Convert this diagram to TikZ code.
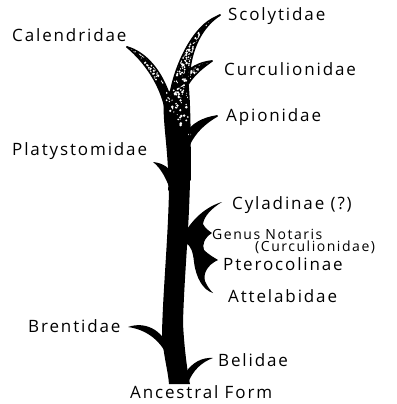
\documentclass[tikz,border=0pt]{standalone}
\usepackage{fontspec}
\newfontfamily\labfont[LetterSpace=11]{Open Sans}
\begin{document}
\begin{tikzpicture}[x=1pt,y=-1pt,
  branch/.style={fill=black,draw=none},
  rim/.style={draw=black,line width=1.6pt,line cap=round},
  lab/.style={anchor=base west,inner sep=0pt,font=\labfont\fontsize{17}{17}\selectfont},
  smalllab/.style={anchor=base west,inner sep=0pt,font=\labfont\fontsize{14}{14}\selectfont}]
\useasboundingbox (0,0) rectangle (396,404);
% trunk
\fill[branch] (165,92) .. controls (162,120) and (170,150) .. (169,190)
  .. controls (168,240) and (163,290) .. (162,333)
  .. controls (163,355) and (168,370) .. (169,384)
  -- (190,384)
  .. controls (187,370) and (184,345) .. (183,323)
  .. controls (184,280) and (189,230) .. (190,180)
  .. controls (190,140) and (190,110) .. (188,85) -- cycle;
% Calendridae leaf
\fill[branch] (127,47) .. controls (145,52) and (162,70) .. (171,100)
  -- (166,112) .. controls (161,85) and (145,62) .. (127,47) -- cycle;
% Scolytidae
\fill[branch] (220,15) .. controls (203,26) and (190,48) .. (189,80)
  -- (170,95) .. controls (175,65) and (192,30) .. (212,19) -- cycle;
% Curculionidae leaf
\fill[branch] (212,61) .. controls (200,62) and (188,68) .. (182,78)
  -- (186,88) .. controls (192,76) and (202,68) .. (212,61) -- cycle;
% Apionidae leaf
\fill[branch] (217,116) .. controls (203,118) and (192,124) .. (186,134)
  -- (189,145) .. controls (195,132) and (205,123) .. (217,116) -- cycle;
% Platystomidae leaf
\fill[branch] (153,162) .. controls (163,163) and (171,168) .. (174,178)
  -- (171,192) .. controls (167,180) and (161,168) .. (153,162) -- cycle;
% side crescent
\fill[branch] (184,234) .. controls (192,220) and (205,207) .. (222,202)
  .. controls (212,208) and (204,216) .. (203,224)
  .. controls (205,228) and (209,231) .. (212,233)
  .. controls (204,238) and (202,245) .. (204,250)
  .. controls (208,254) and (213,257) .. (218,260)
  .. controls (207,265) and (203,274) .. (205,281)
  .. controls (207,286) and (210,290) .. (213,293)
  .. controls (203,290) and (196,278) .. (194,262)
  .. controls (193,252) and (191,246) .. (186,243) -- cycle;
% Brentidae
\fill[branch] (128,327) .. controls (145,321) and (162,330) .. (168,347)
  -- (170,364) .. controls (165,345) and (150,330) .. (128,327) -- cycle;
% Belidae
\fill[branch] (213,358) .. controls (202,357) and (192,363) .. (186,372)
  -- (188,383) .. controls (193,370) and (202,362) .. (213,358) -- cycle;
% speckles
\pgfmathsetseed{11}
\foreach \i in {1,...,650}{
  \pgfmathsetmacro\xx{130+70*rnd}
  \pgfmathsetmacro\yy{25+120*rnd*(0.4+0.6*rnd)}
  \pgfmathsetmacro\rr{0.5+1.0*rnd}
  \fill[white] (\xx,\yy) circle[radius=\rr];
}
\foreach \i in {1,...,120}{
  \pgfmathsetmacro\xx{185+30*rnd}
  \pgfmathsetmacro\yy{15+50*rnd}
  \pgfmathsetmacro\rr{0.4+0.8*rnd}
  \fill[white] (\xx,\yy) circle[radius=\rr];
}
% restore outer edges of the speckled part
\draw[rim] (127,47) .. controls (145,52) and (162,70) .. (171,100);
\draw[rim] (127,47) .. controls (145,62) and (161,85) .. (166,112);
\draw[rim] (220,15) .. controls (203,26) and (190,48) .. (189,80);
\draw[rim] (212,19) .. controls (192,30) and (175,65) .. (170,95);
\draw[rim] (220,15) -- (212,19);
\draw[rim] (212,61) .. controls (200,62) and (188,68) .. (182,78);
\draw[rim] (212,61) .. controls (202,68) and (192,76) .. (186,88);
\draw[rim] (217,116) .. controls (203,118) and (192,124) .. (186,134);
\draw[rim] (217,116) .. controls (205,123) and (195,132) .. (189,145);
\draw[rim] (165,92) .. controls (162,120) and (170,150) .. (169,190);
\draw[rim] (188,85) .. controls (190,110) and (190,140) .. (190,180);
% labels
\node[lab] (sco) at (228,21) {Scolytidae};
\node[lab] (cal) at (12,42) {Calendridae};
\node[lab] (cur) at (224,75) {Curculionidae};
\node[lab] (api) at (226,121) {Apionidae};
\node[lab] (pla) at (12,155) {Platystomidae};
\node[lab] (cyl) at (232,209) {Cyladinae (?)};
\node[smalllab] (gen) at (212,239) {Genus Notaris};
\node[smalllab] (cu2) at (255,251) {(Curculionidae)};
\node[lab] (pte) at (223,270) {Pterocolinae};
\node[lab] (att) at (228,302) {Attelabidae};
\node[lab] (bre) at (28,332) {Brentidae};
\node[lab] (bel) at (218,366) {Belidae};
\node[lab] (anc) at (130,398) {Ancestral Form};
\end{tikzpicture}
\end{document}
